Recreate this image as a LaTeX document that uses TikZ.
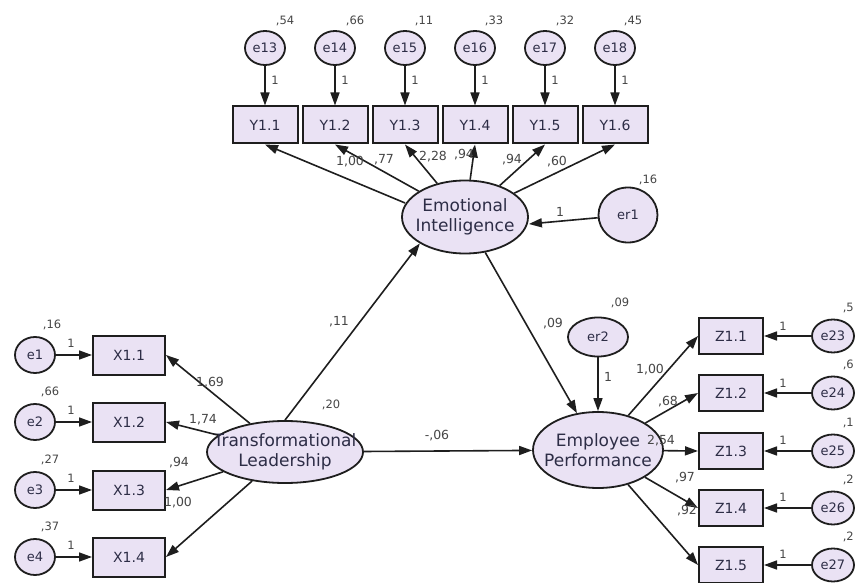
\documentclass[tikz,border=0pt]{standalone}
\usepackage{fontspec}
\setmainfont{DejaVu Sans}
\usetikzlibrary{shapes.geometric,arrows.meta,calc}
\definecolor{fillc}{RGB}{234,226,244}
\definecolor{linec}{RGB}{30,30,30}
\definecolor{txtc}{RGB}{45,45,70}
\definecolor{lblc}{RGB}{70,70,70}
\tikzset{
  obs/.style={draw=linec, line width=2pt, fill=fillc, rectangle, inner sep=0pt, text=txtc, font=\fontsize{14}{16}\selectfont},
  err/.style={draw=linec, line width=1.8pt, fill=fillc, ellipse, inner sep=0pt, minimum width=40pt, minimum height=34pt, text=txtc, font=\fontsize{13}{15}\selectfont},
  lat/.style={draw=linec, line width=1.8pt, fill=fillc, ellipse, inner sep=0pt},
  lattext/.style={align=center, font=\fontsize{17}{20}\selectfont, text=txtc, inner sep=0pt},
  lbl/.style={font=\fontsize{11.5}{13}\selectfont, text=lblc, inner sep=0pt},
  ld/.style={font=\fontsize{12.5}{14}\selectfont, text=lblc, inner sep=0pt},
  arr/.style={draw=linec, line width=1.6pt, -{Triangle[length=13pt,width=9pt]}}
}
\begin{document}
\begin{tikzpicture}[x=1pt,y=-1pt]
\useasboundingbox[fill=white] (0,0) rectangle (855,583);

% ---------- Emotional Intelligence block ----------
\node[lat, minimum width=126pt, minimum height=73pt] (EI) at (465,217) {};
\node[lattext] (EIt) at (EI) {Emotional\\Intelligence};

\foreach \n/\x in {11/265,12/335,13/405,14/475,15/545,16/615}{
  \node[obs, minimum width=65pt, minimum height=37pt] (Y\n) at (\x,125) {Y1.\the\numexpr\n-10\relax};
}
\node[err] (e13) at (265,48) {e13};
\node[err] (e14) at (335,48) {e14};
\node[err] (e15) at (405,48) {e15};
\node[err] (e16) at (475,48) {e16};
\node[err] (e17) at (545,48) {e17};
\node[err] (e18) at (615,48) {e18};

\foreach \a/\b in {e13/Y11,e14/Y12,e15/Y13,e16/Y14,e17/Y15,e18/Y16}{
  \draw[arr] (\a) -- (\b);
}
\draw[arr] ($(EI.west)+(4,-14)$) -- (Y11.south);
\foreach \b in {Y12,Y13,Y14,Y15,Y16}{
  \draw[arr] (EI) -- (\b.south);
}
\node[lbl] (v13) at (285,21) {,54};
\node[lbl] (v14) at (355,21) {,66};
\node[lbl] (v15) at (424,21) {,11};
\node[lbl] (v16) at (494,21) {,33};
\node[lbl] (v17) at (565,21) {,32};
\node[lbl] (v18) at (633,21) {,45};
\node[lbl] (o13) at (275,80) {1};
\node[lbl] (o14) at (345,80) {1};
\node[lbl] (o15) at (415,80) {1};
\node[lbl] (o16) at (485,80) {1};
\node[lbl] (o17) at (555,80) {1};
\node[lbl] (o18) at (625,80) {1};

\node[ld] (l11) at (350,162) {1,00};
\node[ld] (l12) at (384,160) {,77};
\node[ld] (l13) at (433,157) {2,28};
\node[ld] (l14) at (464,155) {,94};
\node[ld] (l15) at (512,160) {,94};
\node[ld] (l16) at (557,162) {,60};

\node[err, minimum width=59pt, minimum height=55pt] (er1) at (628,215) {er1};
\draw[arr] (er1) -- ($(EI.east)+(0,7)$);
\node[lbl] (ver1) at (648,180) {,16};
\node[ld] (oer1) at (560,212) {1};

% ---------- Transformational Leadership block ----------
\node[lat, minimum width=156pt, minimum height=62pt] (TL) at (285,452) {};
\node[lattext] (TLt) at (TL) {Transformational\\Leadership};

\node[obs, minimum width=72pt, minimum height=39pt] (X11) at (129,355) {X1.1};
\node[obs, minimum width=72pt, minimum height=39pt] (X12) at (129,422) {X1.2};
\node[obs, minimum width=72pt, minimum height=39pt] (X13) at (129,490) {X1.3};
\node[obs, minimum width=72pt, minimum height=39pt] (X14) at (129,557) {X1.4};
\node[err, minimum height=36pt] (e1) at (35,355) {e1};
\node[err, minimum height=36pt] (e2) at (35,422) {e2};
\node[err, minimum height=36pt] (e3) at (35,490) {e3};
\node[err, minimum height=36pt] (e4) at (35,557) {e4};
\foreach \a/\b in {e1/X11,e2/X12,e3/X13,e4/X14}{
  \draw[arr] (\a) -- (\b);
}
\foreach \b in {X11,X12,X13,X14}{
  \draw[arr] (TL) -- (\b.east);
}
\node[lbl] (v1) at (52,325) {,16};
\node[lbl] (v2) at (50,392) {,66};
\node[lbl] (v3) at (50,460) {,27};
\node[lbl] (v4) at (50,527) {,37};
\node[lbl] (o1) at (71,343) {1};
\node[lbl] (o2) at (71,410) {1};
\node[lbl] (o3) at (71,478) {1};
\node[lbl] (o4) at (71,545) {1};
\node[ld] (l1) at (210,383) {1,69};
\node[ld] (l2) at (203,420) {1,74};
\node[ld] (l3) at (179,463) {,94};
\node[ld] (l4) at (178,503) {1,00};

\node[lbl] (vTL) at (331,405) {,20};

% ---------- Employee Performance block ----------
\node[lat, minimum width=130pt, minimum height=76pt] (EP) at (598,450) {};
\node[lattext] (EPt) at (EP) {Employee\\Performance};

\node[err, minimum width=60pt, minimum height=39pt] (er2) at (598,337) {er2};
\draw[arr] (er2) -- (EP);
\node[lbl] (ver2) at (620,303) {,09};
\node[ld] (oer2) at (608,377) {1};

\node[obs, minimum width=64pt, minimum height=36pt] (Z11) at (731,336) {Z1.1};
\node[obs, minimum width=64pt, minimum height=36pt] (Z12) at (731,393) {Z1.2};
\node[obs, minimum width=64pt, minimum height=36pt] (Z13) at (731,451) {Z1.3};
\node[obs, minimum width=64pt, minimum height=36pt] (Z14) at (731,508) {Z1.4};
\node[obs, minimum width=64pt, minimum height=36pt] (Z15) at (731,565) {Z1.5};
\node[err, minimum width=42pt, minimum height=33pt] (e23) at (833,336) {e23};
\node[err, minimum width=42pt, minimum height=33pt] (e24) at (833,393) {e24};
\node[err, minimum width=42pt, minimum height=33pt] (e25) at (833,451) {e25};
\node[err, minimum width=42pt, minimum height=33pt] (e26) at (833,508) {e26};
\node[err, minimum width=42pt, minimum height=33pt] (e27) at (833,565) {e27};
\foreach \a/\b in {e23/Z11,e24/Z12,e25/Z13,e26/Z14,e27/Z15}{
  \draw[arr] (\a) -- (\b);
}
\foreach \b in {Z11,Z12,Z13,Z14,Z15}{
  \draw[arr] (EP) -- (\b.west);
}
\node[lbl, anchor=east] (v23) at (854,308) {,5};
\node[lbl, anchor=east] (v24) at (854,365) {,6};
\node[lbl, anchor=east] (v25) at (854,423) {,1};
\node[lbl, anchor=east] (v26) at (854,480) {,2};
\node[lbl, anchor=east] (v27) at (854,537) {,2};
\node[lbl] (o23) at (783,326) {1};
\node[lbl] (o24) at (783,383) {1};
\node[lbl] (o25) at (783,440) {1};
\node[lbl] (o26) at (783,497) {1};
\node[lbl] (o27) at (783,554) {1};
\node[ld] (m1) at (650,370) {1,00};
\node[ld] (m2) at (668,402) {,68};
\node[ld] (m3) at (661,441) {2,54};
\node[ld] (m4) at (685,478) {,97};
\node[ld] (m5) at (687,511) {,92};

% ---------- structural paths ----------
\draw[arr] (TL.north) -- (EI.south west);
\draw[arr] (TL) -- (EP);
\draw[arr] (EI) -- (EP);
\node[ld] (p1) at (339,322) {,11};
\node[ld] (p2) at (437,436) {-,06};
\node[ld] (p3) at (553,324) {,09};
\end{tikzpicture}
\end{document}
